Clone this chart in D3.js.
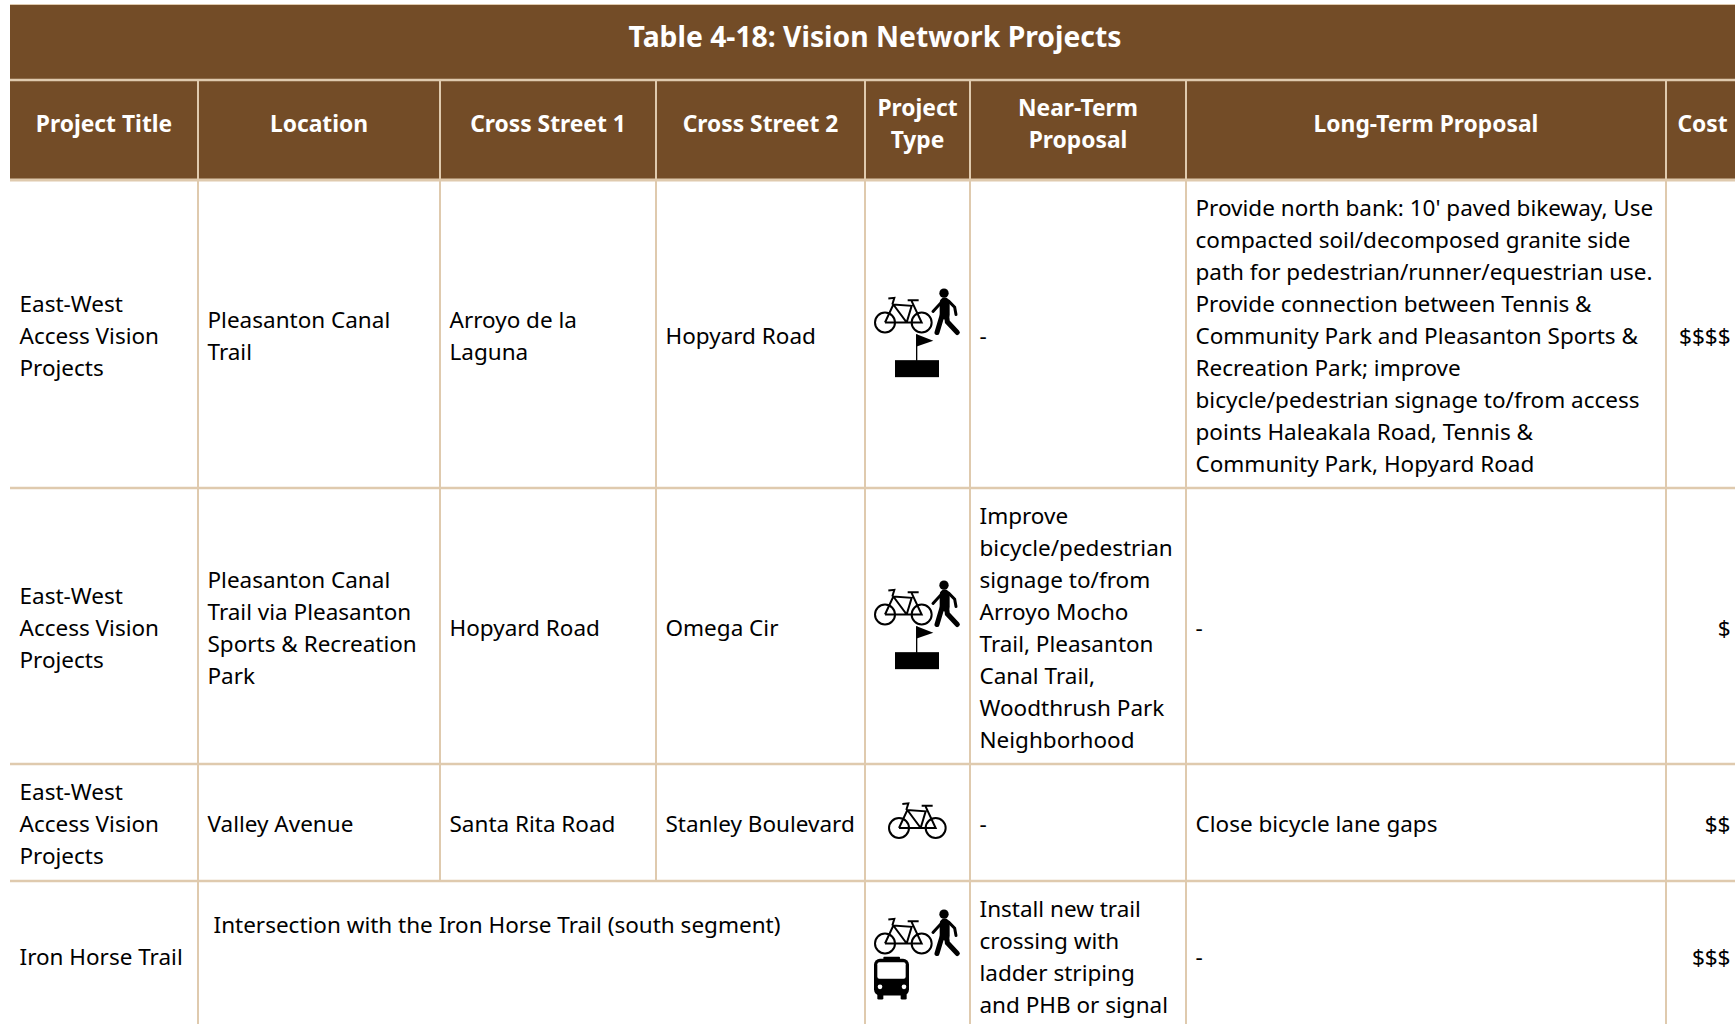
<!DOCTYPE html>
<html>
<head>
<meta charset="utf-8">
<script src="https://cdn.jsdelivr.net/npm/d3@7"></script>
<style>
  html, body { margin: 0; padding: 0; background: #fff; overflow: hidden; }
  svg { display: block; }
  text { font-family: "Noto Sans", "Open Sans", sans-serif; }
</style>
</head>
<body>
<div id="chart"></div>
<script>
const tableTitle = "Table 4-18: Vision Network Projects";
const columns = ["Project Title", "Location", "Cross Street 1", "Cross Street 2", "Project\nType", "Near-Term\nProposal", "Long-Term Proposal", "Cost"];

const projectTitles = ["East-West\nAccess Vision\nProjects", "East-West\nAccess Vision\nProjects", "East-West\nAccess Vision\nProjects", "Iron Horse Trail"];
const locations = ["Pleasanton Canal\nTrail", "Pleasanton Canal\nTrail via Pleasanton\nSports & Recreation\nPark", "Valley Avenue", "Intersection with the Iron Horse Trail (south segment)"];
const crossStreet1 = ["Arroyo de la\nLaguna", "Hopyard Road", "Santa Rita Road", null];
const crossStreet2 = ["Hopyard Road", "Omega Cir", "Stanley Boulevard", null];
const projectTypes = [["bike", "ped", "trail"], ["bike", "ped", "trail"], ["bike"], ["bike", "ped", "bus"]];
const nearTerm = ["-", "Improve\nbicycle/pedestrian\nsignage to/from\nArroyo Mocho\nTrail, Pleasanton\nCanal Trail,\nWoodthrush Park\nNeighborhood", "-", "Install new trail\ncrossing with\nladder striping\nand PHB or signal"];
const longTerm = ["Provide north bank: 10' paved bikeway, Use\ncompacted soil/decomposed granite side\npath for pedestrian/runner/equestrian use.\nProvide connection between Tennis &\nCommunity Park and Pleasanton Sports &\nRecreation Park; improve\nbicycle/pedestrian signage to/from access\npoints Haleakala Road, Tennis &\nCommunity Park, Hopyard Road", "-", "Close bicycle lane gaps", "-"];
const costs = ["$$$$", "$", "$$", "$$$"];

const width = 1735, height = 1024;
const brown = "#734c27", rule = "#dfcaae";
const fontSize = 22.5, lineH = 32, pad = 9.5;

// layout of the table grid
const colEdges = [10, 198, 440, 656, 865, 970, 1186, 1666, 1739];
const rowEdges = [180, 488, 764, 881, 1031];
const x = d3.scaleOrdinal(columns, colEdges);
const right = d3.scaleOrdinal(columns, colEdges.slice(1));
const rowIdx = d3.range(projectTitles.length);
const yTop = d3.scaleOrdinal(rowIdx, rowEdges);
const yBottom = d3.scaleOrdinal(rowIdx, rowEdges.slice(1));

const svg = d3.select("#chart").append("svg")
    .attr("width", width).attr("height", height);

svg.append("rect").attr("width", width).attr("height", height).attr("fill", "#fff");

// =====================
// Header bands
// =====================
svg.append("rect").attr("x", 10).attr("y", 5).attr("width", width).attr("height", 74).attr("fill", brown);
svg.append("rect").attr("x", 10).attr("y", 81).attr("width", width).attr("height", 98).attr("fill", brown);

svg.append("line").attr("x1", 10).attr("x2", width).attr("y1", 4.5).attr("y2", 4.5)
    .attr("stroke", rule).attr("stroke-width", 1);

svg.append("text")
    .attr("x", 875).attr("y", 47)
    .attr("text-anchor", "middle")
    .attr("fill", "#fff")
    .style("font-size", "28.3px").style("font-weight", 700)
    .text(tableTitle);

// writes a "\n" separated string as centred lines around cy
function multiline(sel, str, tx, cy, anchor) {
    const lines = str.split("\n");
    const t = sel.append("text").attr("text-anchor", anchor);
    lines.forEach((l, i) => {
        t.append("tspan")
            .attr("x", tx)
            .attr("y", cy + lineH * (i - (lines.length - 1) / 2) + 8)
            .text(l);
    });
    return t;
}

const headerG = svg.append("g").attr("fill", "#fff")
    .style("font-size", "22.8px").style("font-weight", 700);
columns.forEach(c => {
    multiline(headerG, c, (x(c) + right(c)) / 2, 124, "middle");
});

// =====================
// Grid lines
// =====================
const grid = svg.append("g").attr("stroke", rule).attr("stroke-width", 2);

grid.selectAll(".hline").data([80, 180, 488, 764, 881]).enter().append("line")
    .attr("x1", 10).attr("x2", width)
    .attr("y1", d => d).attr("y2", d => d)
    .attr("stroke-width", d => d === 180 ? 3 : 2.5);

columns.slice(1).forEach(c => {
    const merged = c === "Cross Street 1" || c === "Cross Street 2";
    grid.append("line")
        .attr("x1", x(c)).attr("x2", x(c))
        .attr("y1", 81)
        .attr("y2", merged ? yTop(3) : height);
});

// =====================
// Body cells
// =====================
const body = svg.append("g").attr("fill", "#000").style("font-size", fontSize + "px");
const rowCy = i => (yTop(i) + yBottom(i)) / 2 + (i === 3 ? 0.5 : 1.5);

const textCols = [
    [columns[0], projectTitles],
    [columns[1], locations],
    [columns[2], crossStreet1],
    [columns[3], crossStreet2],
    [columns[5], nearTerm],
    [columns[6], longTerm]
];

textCols.forEach(([c, values]) => {
    values.forEach((v, i) => {
        if (v == null) return;
        if (c === "Location" && i === 3) {
            // merged cell, text sits at the top
            multiline(body, v, x(c) + 15.5, 925, "start");
        } else {
            multiline(body, v, x(c) + pad, rowCy(i), "start");
        }
    });
});

costs.forEach((v, i) => {
    multiline(body, v, right("Cost") - pad + 1, rowCy(i), "end");
});

// =====================
// Project type icons
// =====================
function drawBike(g) {
    const s = g.append("g").attr("transform", "scale(0.3333) translate(-75,-130)")
        .attr("fill", "none").attr("stroke", "#000").attr("stroke-width", 6);
    s.append("circle").attr("cx", 75).attr("cy", 130).attr("r", 30);
    s.append("circle").attr("cx", 185).attr("cy", 130).attr("r", 30);
    s.append("path").attr("d", "M75 130L100 76L155 80L140 130L185 130L155 66M75 130L140 130L100 76M85 58L103 56L97 76M143 63L176 63");
}

function drawPed(g) {
    const s = g.append("g").attr("transform", "scale(0.3333) translate(-75,-130)");
    s.append("circle").attr("cx", 252).attr("cy", 42).attr("r", 14).attr("fill", "#000");
    s.append("path").attr("d", "M219 97L240 74L254 64M266 66L284 84L288 106")
        .attr("fill", "none").attr("stroke", "#000").attr("stroke-width", 9).attr("stroke-linecap", "round");
    s.append("path").attr("d", "M254 70L254 106")
        .attr("fill", "none").attr("stroke", "#000").attr("stroke-width", 30).attr("stroke-linecap", "round");
    s.append("path").attr("d", "M246 110L231 160M260 108L262 128L292 160")
        .attr("fill", "none").attr("stroke", "#000").attr("stroke-width", 15).attr("stroke-linecap", "round");
}

function drawTrail(g) {
    const s = g.append("g").attr("transform", "scale(0.3333) translate(-75,-130)");
    s.append("rect").attr("x", 168).attr("y", 165).attr("width", 4).attr("height", 80).attr("fill", "#000");
    s.append("path").attr("d", "M170 165L220 185L170 202Z").attr("fill", "#000");
    s.append("rect").attr("x", 105).attr("y", 243).attr("width", 132).attr("height", 51).attr("fill", "#000");
}

function drawBus(g) {
    const s = g.append("g").attr("transform", "scale(0.3333) translate(-75,-130)");
    s.append("rect").attr("x", 70).attr("y", 170).attr("width", 50).attr("height", 8).attr("rx", 3).attr("fill", "#000");
    s.append("rect").attr("x", 42).attr("y", 176).attr("width", 105).attr("height", 110).attr("rx", 18).attr("fill", "#000");
    s.append("rect").attr("x", 52).attr("y", 186).attr("width", 85).attr("height", 50).attr("rx", 6).attr("fill", "#fff");
    s.append("circle").attr("cx", 60).attr("cy", 260).attr("r", 7).attr("fill", "#fff");
    s.append("circle").attr("cx", 132).attr("cy", 260).attr("r", 7).attr("fill", "#fff");
    s.append("rect").attr("x", 52).attr("y", 280).attr("width", 18).attr("height", 18).attr("rx", 4).attr("fill", "#000");
    s.append("rect").attr("x", 122).attr("y", 280).attr("width", 18).attr("height", 18).attr("rx", 4).attr("fill", "#000");
}

const iconDraw = { bike: drawBike, ped: drawPed, trail: drawTrail, bus: drawBus };

projectTypes.forEach((types, i) => {
    const c = columns[4];
    const single = types.length === 1;
    const g = svg.append("g")
        .attr("transform", `translate(${x(c) + (single ? 34 : 20)},${rowCy(i) + (single ? 4 : i === 3 ? -13 : -13)})`);
    types.forEach(t => iconDraw[t](g));
});
</script>
</body>
</html>
